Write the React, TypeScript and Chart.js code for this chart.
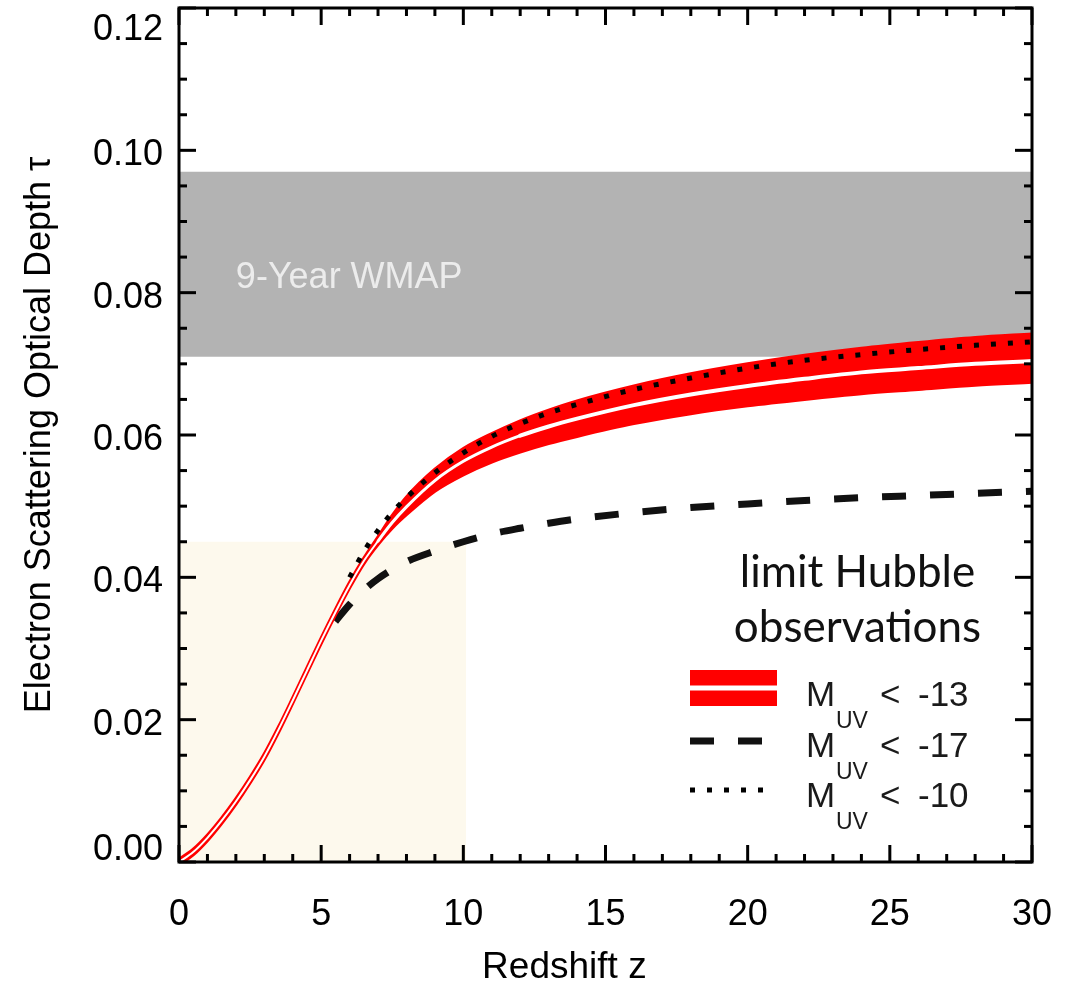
import React, { useEffect, useRef } from 'react';
import { Chart, registerables } from 'chart.js';

Chart.register(...registerables);

// ---------------- data ----------------
const zBand = [0, 0.5, 1, 1.5, 2, 2.5, 3, 3.5, 4, 4.5, 5, 5.5, 6, 6.5, 7, 7.5, 8, 9, 10, 11, 12, 13, 14, 16, 18, 20, 22, 24, 26, 28, 30];
const tauMid = [0, 0.0014, 0.0034, 0.0058, 0.0085, 0.0115, 0.0148, 0.0186, 0.0227, 0.0269, 0.0311, 0.0351, 0.0389, 0.0423, 0.0451, 0.0477, 0.0499, 0.0536, 0.0563, 0.0583, 0.0599, 0.0612, 0.0623, 0.0642, 0.0657, 0.0669, 0.0679, 0.0688, 0.0694, 0.07, 0.0704];
const tauUpper = [0.0004, 0.0018, 0.0038, 0.0062, 0.0089, 0.0119, 0.0152, 0.019, 0.0231, 0.0273, 0.0315, 0.0355, 0.0393, 0.0427, 0.0457, 0.0487, 0.0513, 0.0552, 0.0581, 0.0602, 0.062, 0.0635, 0.0648, 0.0669, 0.0686, 0.07, 0.0712, 0.0722, 0.073, 0.0737, 0.0742];
const tauLower = [-0.0004, 0.001, 0.003, 0.0054, 0.0081, 0.0111, 0.0144, 0.0182, 0.0223, 0.0265, 0.0307, 0.0347, 0.0385, 0.0419, 0.0446, 0.0469, 0.0488, 0.0521, 0.0544, 0.0562, 0.0576, 0.0588, 0.0598, 0.0616, 0.063, 0.0641, 0.065, 0.0658, 0.0664, 0.067, 0.0674];

const zDashed = [5.5, 6, 6.5, 7, 7.5, 8, 9, 10, 11, 12, 13, 14, 16, 18, 20, 22, 24, 26, 28, 30];
const tauDashed = [0.0338, 0.0362, 0.0382, 0.0398, 0.0411, 0.0422, 0.0437, 0.045, 0.0461, 0.0469, 0.0476, 0.0482, 0.0491, 0.0498, 0.0503, 0.0508, 0.0512, 0.0515, 0.0518, 0.0521];

const zDotted = [6, 6.5, 7, 7.5, 8, 9, 10, 11, 12, 13, 14, 16, 18, 20, 22, 24, 26, 28, 30];
const tauDotted = [0.04, 0.0436, 0.0466, 0.0491, 0.0512, 0.0547, 0.0575, 0.0598, 0.0616, 0.0631, 0.0643, 0.0664, 0.068, 0.0694, 0.0705, 0.0713, 0.072, 0.0726, 0.0731];

const wmapTauRange = [0.071, 0.097];
const wmapLabel = '9-Year WMAP';
const hubbleZRange = [0, 10.1];
const hubbleTauMax = [0.045];

const xTicks = [0, 5, 10, 15, 20, 25, 30];
const yTicks = [0, 0.02, 0.04, 0.06, 0.08, 0.1, 0.12];
const xMinorStep = [1];
const yMinorStep = [0.005];

const xTitle = 'Redshift z';
const yTitle = 'Electron Scattering Optical Depth τ';
const legendTitle = ['limit Hubble', 'observations'];
const legendLimits = ['-13', '-17', '-10'];

// --------------------------------------
const pts = (xs: number[], ys: number[]) => xs.map((x, i) => ({ x, y: ys[i] }));
const SANS = '"Liberation Sans", Arial, Helvetica, sans-serif';

const framePlugin = {
  id: 'frameTicks',
  afterDatasetsDraw(chart: any) {
    const { ctx, chartArea, scales } = chart;
    const { left, right, top, bottom } = chartArea;
    const xs = scales.x;
    const ys = scales.y;
    ctx.save();
    // WMAP label
    ctx.font = `36px ${SANS}`;
    ctx.fillStyle = '#ececec';
    ctx.textAlign = 'left';
    ctx.textBaseline = 'alphabetic';
    ctx.fillText(wmapLabel, xs.getPixelForValue(2), ys.getPixelForValue(0.0806));

    ctx.strokeStyle = '#000';
    ctx.lineWidth = 3;
    ctx.lineCap = 'butt';
    const seg = (x1: number, y1: number, x2: number, y2: number) => {
      ctx.beginPath();
      ctx.moveTo(x1, y1);
      ctx.lineTo(x2, y2);
      ctx.stroke();
    };
    const xn = Math.round((xs.max - xs.min) / xMinorStep[0]);
    for (let i = 0; i <= xn; i++) {
      const v = xs.min + i * xMinorStep[0];
      const px = xs.getPixelForValue(v);
      const major = xTicks.some((t) => Math.abs(t - v) < 1e-9);
      const len = major ? 17 : 8;
      seg(px, bottom, px, bottom - len);
      seg(px, top, px, top + len);
    }
    const yn = Math.round((ys.max - ys.min) / yMinorStep[0]);
    for (let i = 0; i <= yn; i++) {
      const v = ys.min + i * yMinorStep[0];
      const py = ys.getPixelForValue(v);
      const major = yTicks.some((t) => Math.abs(t - v) < 1e-9);
      const len = major ? 17 : 8;
      seg(left, py, left + len, py);
      seg(right, py, right - len, py);
    }
    ctx.lineWidth = 3;
    ctx.strokeRect(left, top, right - left, bottom - top);
    ctx.restore();
  },
};

export default function App() {
  const ref = useRef<HTMLCanvasElement | null>(null);

  useEffect(() => {
    document.body.style.margin = '0';
    const canvas = ref.current;
    if (!canvas) return;
    Chart.defaults.font.family = SANS;

    const chart = new Chart(canvas, {
      type: 'line',
      data: {
        datasets: [
          {
            label: 'M_UV < -10',
            data: pts(zDotted, tauDotted),
            borderColor: '#000',
            borderWidth: 5,
            borderDash: [5, 12],
            borderCapStyle: 'butt',
            pointRadius: 0,
            fill: false,
            cubicInterpolationMode: 'monotone',
            order: 0,
          },
          {
            label: 'M_UV < -13 (median)',
            data: pts(zBand, tauMid),
            borderColor: '#ffffff',
            borderWidth: 2,
            borderCapStyle: 'round',
            pointRadius: 0,
            fill: false,
            cubicInterpolationMode: 'monotone',
            segment: {
              borderWidth: (c: any) => (c.p0.parsed.x < 7 ? 2 : c.p0.parsed.x < 12 ? 3 : 4),
            },
            order: 1,
          },
          {
            label: 'M_UV < -13 upper',
            data: pts(zBand, tauUpper),
            borderColor: '#ff0000',
            backgroundColor: '#ff0000',
            borderWidth: 3,
            pointRadius: 0,
            fill: '+1',
            cubicInterpolationMode: 'monotone',
            order: 2,
          },
          {
            label: 'M_UV < -13 lower',
            data: pts(zBand, tauLower),
            borderColor: '#ff0000',
            borderWidth: 3,
            pointRadius: 0,
            fill: false,
            cubicInterpolationMode: 'monotone',
            order: 3,
          },
          {
            label: 'M_UV < -17',
            data: pts(zDashed, tauDashed),
            borderColor: '#111',
            borderWidth: 7,
            borderDash: [24, 24],
            borderCapStyle: 'butt',
            pointRadius: 0,
            fill: false,
            cubicInterpolationMode: 'monotone',
            order: 4,
          },
          {
            label: '9-Year WMAP',
            data: [
              { x: 0, y: wmapTauRange[1] },
              { x: 30, y: wmapTauRange[1] },
            ],
            borderWidth: 0,
            borderColor: 'rgba(0,0,0,0)',
            backgroundColor: '#b3b3b3',
            pointRadius: 0,
            fill: { value: wmapTauRange[0] },
            order: 5,
          },
          {
            label: 'Hubble limit',
            data: [
              { x: hubbleZRange[0], y: hubbleTauMax[0] },
              { x: hubbleZRange[1], y: hubbleTauMax[0] },
            ],
            borderWidth: 0,
            borderColor: 'rgba(0,0,0,0)',
            backgroundColor: '#fdf9ed',
            pointRadius: 0,
            fill: 'origin',
            order: 6,
          },
        ],
      },
      options: {
        responsive: false,
        animation: false,
        devicePixelRatio: 1,
        events: [],
        layout: { padding: { left: 0, top: 8, right: 34, bottom: 0 } },
        plugins: {
          legend: { display: false },
          tooltip: { enabled: false },
        },
        scales: {
          x: {
            type: 'linear',
            min: 0,
            max: 30,
            afterBuildTicks: (s: any) => {
              s.ticks = xTicks.map((v) => ({ value: v }));
            },
            afterFit: (s: any) => {
              s.height = 126;
              s.paddingLeft = 0;
              s.paddingRight = 0;
            },
            grid: { display: false, drawTicks: false },
            border: { display: false },
            ticks: {
              autoSkip: false,
              maxRotation: 0,
              minRotation: 0,
              padding: 31,
              color: '#000',
              font: { size: 36, family: SANS, lineHeight: 1.2 },
              callback: (v: any) => String(v),
            },
            title: {
              display: true,
              text: xTitle + '\u00a0\u00a0\u00a0\u00a0\u00a0\u00a0\u00a0\u00a0',
              color: '#000',
              font: { size: 37, family: SANS, lineHeight: 1.2 },
              padding: { top: 0, bottom: -2 },
            },
          },
          y: {
            type: 'linear',
            min: 0,
            max: 0.12,
            afterBuildTicks: (s: any) => {
              s.ticks = yTicks.map((v) => ({ value: v }));
            },
            afterFit: (s: any) => {
              s.width = 179;
              s.paddingTop = 0;
              s.paddingBottom = 0;
            },
            grid: { display: false, drawTicks: false },
            border: { display: false },
            ticks: {
              autoSkip: false,
              padding: 16,
              labelOffset: 5,
              color: '#000',
              font: { size: 36, family: SANS, lineHeight: 0.95 },
              callback: (v: any) => {
                const n = Number(v);
                const s = n.toFixed(2);
                if (n >= 0.12 - 1e-9) return ['', s];
                if (n <= 1e-9) return [s, ''];
                return s;
              },
            },
            title: {
              display: true,
              text: yTitle,
              color: '#000',
              font: { size: 36, family: SANS, lineHeight: 1.2 },
              padding: { top: 18, bottom: 0 },
            },
          },
        },
      },
      plugins: [framePlugin],
    } as any);

    return () => chart.destroy();
  }, []);

  const rowBase = [705.7, 756.7, 806.7];

  return (
    <div style={{ position: 'relative', width: 1066, height: 988 }}>
      <canvas ref={ref} width={1066} height={988} style={{ display: 'block', width: 1066, height: 988 }} />
      <svg
        width={1066}
        height={988}
        style={{ position: 'absolute', left: 0, top: 0, pointerEvents: 'none' }}
      >
        <text x={857.5} y={586.7} textAnchor="middle" fontFamily="Lato, 'Open Sans', sans-serif" fontSize={44} fill="#111">
          {legendTitle[0]}
        </text>
        <text x={857.5} y={641.7} textAnchor="middle" fontFamily="Lato, 'Open Sans', sans-serif" fontSize={44} fill="#111">
          {legendTitle[1]}
        </text>
        {/* swatches */}
        <rect x={690} y={670} width={87} height={36} fill="#ff0000" />
        <rect x={690} y={685.5} width={87} height={5} fill="#ffffff" />
        <line x1={690} y1={741} x2={763} y2={741} stroke="#111" strokeWidth={7} strokeDasharray="24 24" />
        <line x1={690} y1={790} x2={766} y2={790} stroke="#000" strokeWidth={5} strokeDasharray="5 12" />
        {legendLimits.map((lim, i) => (
          <g key={lim} fontFamily={SANS} fill="#1a1a1a">
            <text x={806} y={rowBase[i]} fontSize={35}>M</text>
            <text x={836} y={rowBase[i] + 22} fontSize={23}>UV</text>
            <text x={880} y={rowBase[i]} fontSize={35}>&lt;</text>
            <text x={918} y={rowBase[i]} fontSize={35}>{lim}</text>
          </g>
        ))}
      </svg>
    </div>
  );
}
